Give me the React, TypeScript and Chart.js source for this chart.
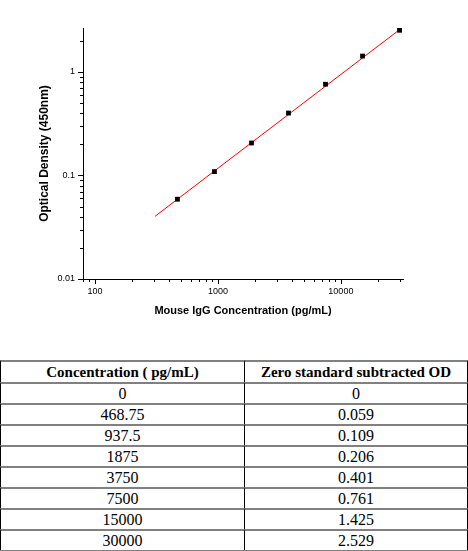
import { useEffect, useRef } from 'react';
import { Chart, registerables } from 'chart.js';

Chart.register(...registerables);

// standard curve data
const CONCENTRATIONS = [468.75, 937.5, 1875, 3750, 7500, 15000, 30000];
const OD_VALUES = [0.059, 0.109, 0.206, 0.401, 0.761, 1.425, 2.529];

// fitted line end points
const FIT_X = [308, 32000];
const FIT_Y = [0.0403, 2.72];

// decade tick labels
const X_TICK_LABELS = [100, 1000, 10000];
const Y_TICK_LABELS = [0.01, 0.1, 1];

// table rows
const TABLE_CONC = ['0', '468.75', '937.5', '1875', '3750', '7500', '15000', '30000'];
const TABLE_OD = ['0', '0.059', '0.109', '0.206', '0.401', '0.761', '1.425', '2.529'];

const isDecade = (v: number) => Math.abs(Math.log10(v) - Math.round(Math.log10(v))) < 1e-9;

// 1..9 x 10^n ticks inside the scale range
function logTicks(scale: any) {
  const out: { value: number }[] = [];
  const lo = Math.floor(Math.log10(scale.min));
  const hi = Math.ceil(Math.log10(scale.max));
  for (let e = lo; e <= hi; e++) {
    for (let m = 1; m <= 9; m++) {
      const v = e < 0 ? m / Math.pow(10, -e) : m * Math.pow(10, e);
      if (v >= scale.min * 0.9999 && v <= scale.max * 1.0001) out.push({ value: v });
    }
  }
  scale.ticks = out;
}

const tickMarks = {
  id: 'tickMarks',
  afterDraw(chart: any) {
    const { ctx } = chart;
    const xs = chart.scales.x;
    const ys = chart.scales.y;
    ctx.save();
    ctx.strokeStyle = '#000';
    ctx.lineWidth = 1;
    ctx.beginPath();
    xs.ticks.forEach((t: any) => {
      const px = Math.round(xs.getPixelForValue(t.value)) + 0.5;
      const len = isDecade(t.value) ? 5 : 3;
      ctx.moveTo(px, xs.top);
      ctx.lineTo(px, xs.top + len);
    });
    ys.ticks.forEach((t: any) => {
      const py = Math.round(ys.getPixelForValue(t.value)) + 0.5;
      const len = isDecade(t.value) ? 5 : 3;
      ctx.moveTo(ys.right, py);
      ctx.lineTo(ys.right - len, py);
    });
    ctx.stroke();
    ctx.restore();
  },
};

function StandardCurve() {
  const canvasRef = useRef<HTMLCanvasElement>(null);
  const chartRef = useRef<Chart | null>(null);

  useEffect(() => {
    if (!canvasRef.current) return;
    if (chartRef.current) chartRef.current.destroy();

    const tickFont = { family: '"Liberation Sans", Arial, sans-serif', size: 9 };

    chartRef.current = new Chart(canvasRef.current, {
      type: 'scatter',
      data: {
        datasets: [
          {
            label: 'Standards',
            data: CONCENTRATIONS.map((x, i) => ({ x, y: OD_VALUES[i] })),
            pointStyle: 'rect',
            pointRadius: 3.4,
            backgroundColor: '#000',
            borderColor: '#000',
            borderWidth: 0,
          },
          {
            label: 'Fit',
            data: FIT_X.map((x, i) => ({ x, y: FIT_Y[i] })),
            showLine: true,
            borderColor: '#ff0000',
            borderWidth: 1,
            pointRadius: 0,
          },
        ],
      },
      options: {
        responsive: true,
        maintainAspectRatio: false,
        animation: false,
        layout: { padding: { top: 28, right: 65, bottom: 0, left: 0 } },
        plugins: {
          legend: { display: false },
          tooltip: { enabled: false },
        },
        scales: {
          x: {
            type: 'logarithmic',
            min: 80,
            max: 32000,
            afterBuildTicks: logTicks,
            afterFit: (s: any) => { s.height = 81; },
            grid: { display: false, drawTicks: false },
            border: { display: true, color: '#000', width: 1 },
            ticks: {
              autoSkip: false,
              maxRotation: 0,
              padding: 7,
              color: '#000',
              font: tickFont,
              callback: (v: any) => (X_TICK_LABELS.some(t => Math.abs(t - v) < 1e-6) ? String(v) : ''),
            },
            title: {
              display: true,
              text: 'Mouse IgG Concentration (pg/mL)',
              color: '#000',
              font: { family: '"Liberation Sans", Arial, sans-serif', size: 11, weight: 'bold' },
              padding: { top: 0, bottom: 42 },
            },
          },
          y: {
            type: 'logarithmic',
            min: 0.01,
            max: 2.66,
            afterBuildTicks: logTicks,
            afterFit: (s: any) => { s.width = 83; },
            grid: { display: false, drawTicks: false },
            border: { display: true, color: '#000', width: 1 },
            ticks: {
              autoSkip: false,
              padding: 8,
              color: '#000',
              font: tickFont,
              callback: (v: any) => (Y_TICK_LABELS.some(t => Math.abs(t - v) < 1e-9) ? String(v) : ''),
            },
            title: {
              display: true,
              text: 'Optical Density (450nm)',
              color: '#000',
              font: { family: '"Liberation Sans", Arial, sans-serif', size: 12, weight: 'bold' },
              padding: { top: 37, bottom: 0 },
            },
          },
        },
      },
      plugins: [tickMarks],
    });

    return () => { chartRef.current?.destroy(); chartRef.current = null; };
  }, []);

  return (
    <div style={{ position: 'absolute', left: 0, top: 0, width: 468, height: 360 }}>
      <canvas ref={canvasRef} />
    </div>
  );
}

const cell = (first: boolean, header: boolean, h: number): React.CSSProperties => ({
  boxSizing: 'border-box',
  height: h,
  padding: 0,
  textAlign: 'center',
  verticalAlign: 'middle',
  borderTop: '2px solid #808080',
  borderRight: '1px solid #000',
  borderLeft: first ? '1px solid #000' : 'none',
  fontWeight: header ? 'bold' : 'normal',
  fontSize: header ? 15 : 16,
  lineHeight: '18px',
});

export default function App() {
  return (
    <div style={{ position: 'absolute', left: 0, top: 0, width: 468, height: 551, background: '#fff', overflow: 'hidden' }}>
      <StandardCurve />
      <table
        style={{
          position: 'absolute',
          left: 0,
          top: 360,
          width: 468,
          borderCollapse: 'separate',
          borderSpacing: 0,
          fontFamily: '"Liberation Serif", "Times New Roman", serif',
          color: '#000',
          borderBottom: '2px solid #808080',
        }}
      >
        <tbody>
          <tr>
            <td style={{ ...cell(true, true, 22), width: 245 }}>Concentration ( pg/mL)</td>
            <td style={cell(false, true, 22)}>Zero standard subtracted OD</td>
          </tr>
          {TABLE_CONC.map((c, i) => (
            <tr key={c}>
              <td style={cell(true, false, 21)}>{c}</td>
              <td style={cell(false, false, 21)}>{TABLE_OD[i]}</td>
            </tr>
          ))}
        </tbody>
      </table>
    </div>
  );
}
